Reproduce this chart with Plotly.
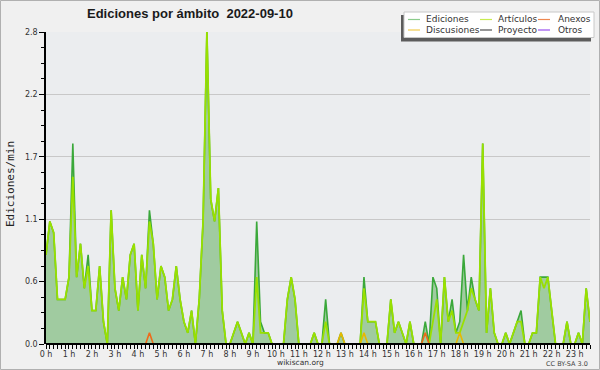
import numpy as np
import plotly.graph_objects as go

# ---------------- data (edits per minute, 10-minute slots from 00:00) ----------------
ediciones = [
    0.8, 1.1, 1.0, 0.4, 0.4, 0.4, 0.6, 1.8, 0.6, 0.9, 0.5, 0.8,   # 0h-1h50
    0.3, 0.3, 0.7, 0.2, 0.0, 1.2, 0.5, 0.3, 0.6, 0.4, 0.8, 0.9,   # 2h-3h50
    0.3, 0.8, 0.5, 1.2, 0.9, 0.4, 0.7, 0.6, 0.3, 0.4, 0.7, 0.4,   # 4h-5h50
    0.2, 0.1, 0.3, 0.0, 0.4, 1.1, 2.8, 1.3, 1.1, 1.4, 0.3, 0.0,   # 6h-7h50
    0.0, 0.1, 0.2, 0.1, 0.0, 0.1, 0.0, 1.1, 0.2, 0.1, 0.1, 0.0,   # 8h-9h50
    0.0, 0.0, 0.0, 0.4, 0.6, 0.4, 0.0, 0.0, 0.0, 0.0, 0.1, 0.0,   # 10h-11h50
    0.0, 0.4, 0.0, 0.0, 0.0, 0.1, 0.0, 0.0, 0.0, 0.0, 0.0, 0.6,   # 12h-13h50
    0.2, 0.2, 0.2, 0.0, 0.0, 0.0, 0.4, 0.1, 0.2, 0.1, 0.0, 0.2,   # 14h-15h50
    0.0, 0.0, 0.0, 0.2, 0.0, 0.6, 0.5, 0.0, 0.6, 0.2, 0.4, 0.1,   # 16h-17h50
    0.2, 0.8, 0.3, 0.6, 0.4, 0.3, 1.8, 0.1, 0.5, 0.1, 0.0, 0.0,   # 18h-19h50
    0.1, 0.0, 0.1, 0.2, 0.3, 0.0, 0.0, 0.1, 0.1, 0.6, 0.6, 0.6,   # 20h-21h50
    0.3, 0.0, 0.0, 0.0, 0.2, 0.0, 0.0, 0.1, 0.0, 0.5, 0.2,        # 22h-23h40
]
articulos = [
    0.8, 1.1, 1.0, 0.4, 0.4, 0.4, 0.6, 1.5, 0.6, 0.9, 0.5, 0.7,
    0.3, 0.3, 0.7, 0.2, 0.0, 1.2, 0.5, 0.3, 0.6, 0.4, 0.8, 0.9,
    0.3, 0.8, 0.5, 1.1, 0.9, 0.4, 0.7, 0.6, 0.3, 0.4, 0.7, 0.4,
    0.2, 0.1, 0.3, 0.0, 0.4, 1.1, 2.8, 1.3, 1.1, 1.4, 0.3, 0.0,
    0.0, 0.1, 0.2, 0.1, 0.0, 0.1, 0.0, 0.6, 0.1, 0.1, 0.1, 0.0,
    0.0, 0.0, 0.0, 0.4, 0.6, 0.4, 0.0, 0.0, 0.0, 0.0, 0.1, 0.0,
    0.0, 0.2, 0.0, 0.0, 0.0, 0.0, 0.0, 0.0, 0.0, 0.0, 0.0, 0.5,
    0.2, 0.2, 0.2, 0.0, 0.0, 0.0, 0.4, 0.1, 0.2, 0.1, 0.0, 0.2,
    0.0, 0.0, 0.0, 0.0, 0.0, 0.2, 0.4, 0.0, 0.6, 0.2, 0.3, 0.1,
    0.1, 0.2, 0.3, 0.5, 0.4, 0.3, 1.8, 0.1, 0.5, 0.1, 0.0, 0.0,
    0.1, 0.0, 0.1, 0.2, 0.2, 0.0, 0.0, 0.1, 0.1, 0.6, 0.5, 0.6,
    0.3, 0.0, 0.0, 0.0, 0.2, 0.0, 0.0, 0.1, 0.0, 0.5, 0.2,
]
anexos = [0.0] * 27 + [0.1] + [0.0] * 71 + [0.1] + [0.0] * 43
discusiones = [0.0] * 77 + [0.1] + [0.0] * 5 + [0.1] + [0.0] * 24 + [0.1] + [0.0] * 34
proyecto = [0.0] * 143
otros = [0.0] * 143

y_tick_values = [0.0, 0.56, 1.12, 1.68, 2.24, 2.8]
y_tick_labels = ["0.0", "0.6", "1.1", "1.7", "2.2", "2.8"]

legend_names = ["Ediciones", "Artículos", "Anexos", "Discusiones", "Proyecto", "Otros"]
legend_colors = ["#8ccc8c", "#c8ec50", "#ee8850", "#f0cc50", "#505050", "#9a50ee"]

# ---------------- figure ----------------
hours = np.arange(len(ediciones)) / 6.0

fig = go.Figure()
fig.add_trace(go.Scatter(x=hours, y=ediciones, mode="lines", fill="tozeroy",
                         fillcolor="#a0cba0", line=dict(color="#3aa83a", width=1.6),
                         name="Ediciones", showlegend=False))
fig.add_trace(go.Scatter(x=hours, y=articulos, mode="lines",
                         line=dict(color="#99e000", width=1.8),
                         name="Artículos", showlegend=False))
fig.add_trace(go.Scatter(x=hours, y=proyecto, mode="lines",
                         line=dict(color="#505050", width=1.2), showlegend=False))
fig.add_trace(go.Scatter(x=hours, y=otros, mode="lines",
                         line=dict(color="#9a50ee", width=1.2), showlegend=False))
fig.add_trace(go.Scatter(x=hours, y=discusiones, mode="lines",
                         line=dict(color="#e8b800", width=1.6), showlegend=False))
fig.add_trace(go.Scatter(x=hours, y=anexos, mode="lines",
                         line=dict(color="#ee6a1a", width=1.6), showlegend=False))

L, R, T, B = 46, 10, 32, 26
W, H = 600, 370
PW, PH = W - L - R, H - T - B


def px(x):
    return (x - L) / PW


def py(y):
    return (H - B - y) / PH


small = "DejaVu Sans"
shapes = [
    # outer border
    dict(type="rect", xref="paper", yref="paper", x0=px(0.5), x1=px(599.5), y0=py(0.5), y1=py(369.5),
         line=dict(color="#b0b0b0", width=1), layer="below"),
    # baseline (x axis line)
    dict(type="line", xref="paper", yref="paper", x0=0, x1=1, y0=0, y1=0,
         line=dict(color="black", width=2), layer="above"),
    # legend shadow and box
    dict(type="rect", xref="paper", yref="paper", x0=px(401), x1=px(591), y0=py(15), y1=py(41.5),
         fillcolor="#5c5c5c", line=dict(width=0), layer="above"),
    dict(type="rect", xref="paper", yref="paper", x0=px(404), x1=px(594), y0=py(12), y1=py(37.5),
         fillcolor="white", line=dict(color="#c8c8c8", width=1), layer="above"),
]

annotations = [
    dict(text="Ediciones por ámbito\u00a0\u00a02022-09-10", xref="paper", yref="paper",
         x=px(85), y=py(14), xanchor="left", yanchor="middle", showarrow=False,
         font=dict(family="Liberation Sans", size=13, color="#1a1a1a", weight="bold")),
    dict(text="Ediciones/min", xref="paper", yref="paper", x=px(10), y=py(184),
         xanchor="center", yanchor="middle", textangle=-90, showarrow=False,
         font=dict(family="DejaVu Sans Mono", size=11, color="#222")),
    dict(text="wikiscan.org", xref="paper", yref="paper", x=px(300), y=py(362),
         xanchor="center", yanchor="middle", showarrow=False,
         font=dict(family=small, size=7.5, color="#333")),
    dict(text="CC BY-SA 3.0", xref="paper", yref="paper", x=px(590), y=py(363.5),
         xanchor="right", yanchor="middle", showarrow=False,
         font=dict(family=small, size=6.5, color="#444")),
]

col_line_x = [(408, 420), (480, 492), (538, 550)]
col_text_x = [424, 496, 556]
row_y = [19.5, 30.0]
for i, (name, color) in enumerate(zip(legend_names, legend_colors)):
    r, c = divmod(i, 3)
    x0, x1 = col_line_x[c]
    shapes.append(dict(type="line", xref="paper", yref="paper", x0=px(x0), x1=px(x1),
                       y0=py(row_y[r]), y1=py(row_y[r]), line=dict(color=color, width=1.2),
                       layer="above"))
    annotations.append(dict(text=name, xref="paper", yref="paper", x=px(col_text_x[c]),
                            y=py(row_y[r]), xanchor="left", yanchor="middle", showarrow=False,
                            font=dict(family=small, size=9, color="#333")))

fig.update_layout(
    width=W, height=H,
    margin=dict(l=L, r=R, t=T, b=B, pad=0),
    paper_bgcolor="#f0f0f0", plot_bgcolor="#ebedef",
    showlegend=False,
    shapes=shapes, annotations=annotations,
    xaxis=dict(range=[0, hours[-1]], tickmode="linear", tick0=0, dtick=1, ticksuffix=" h",
               ticks="outside", ticklen=4, tickwidth=1, tickcolor="black",
               showgrid=False, zeroline=False, showline=False, ticklabelstandoff=-2,
               tickfont=dict(family=small, size=8, color="#333"),
               minor=dict(tickmode="linear", tick0=0, dtick=1 / 6, ticks="outside",
                          ticklen=4, tickwidth=1, tickcolor="black", showgrid=False)),
    yaxis=dict(range=[0, 2.8], tickmode="array", tickvals=y_tick_values, ticktext=y_tick_labels,
               ticks="outside", ticklen=5, tickwidth=1, tickcolor="black",
               showline=True, linecolor="black", linewidth=1.5,
               showgrid=True, gridcolor="#c8c8c8", gridwidth=1, zeroline=False,
               tickfont=dict(family=small, size=8, color="#333"),
               minor=dict(tickmode="linear", tick0=0, dtick=0.14, ticks="outside",
                          ticklen=3, tickwidth=1, tickcolor="black", showgrid=False)),
)

fig.write_html("out.html", config={"displayModeBar": False},
               post_script="document.body.style.margin='0px';document.body.style.overflow='hidden';")
